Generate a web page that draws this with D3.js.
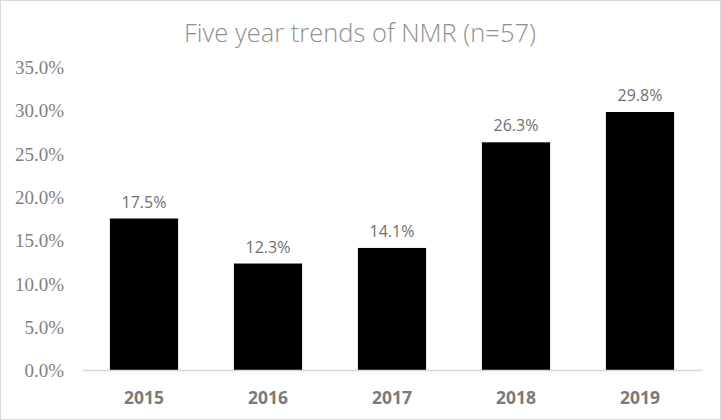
<!DOCTYPE html>
<html><head><meta charset="utf-8">
<script src="https://cdn.jsdelivr.net/npm/d3@7"></script>
<style>body{margin:0;background:#fff}svg{display:block}</style>
</head><body><svg id="c" width="721" height="420"></svg>
<script>
const categories = ["2015","2016","2017","2018","2019"];
const values = [17.5, 12.3, 14.1, 26.3, 29.8];
const yTicks = [0,5,10,15,20,25,30,35];
const title = "Five year trends of NMR (n=57)";

const svg = d3.select("#c");
svg.append("rect").attr("x",0.5).attr("y",0.5).attr("width",720).attr("height",419)
  .attr("fill","#fff").attr("stroke","#d9d9d9");

const x = d3.scaleBand().domain(categories).range([82,702]).paddingInner(0.45).paddingOuter(0.225);
const y = d3.scaleLinear().domain([0,35]).range([370,67]);

svg.append("text").attr("x",360).attr("y",42).attr("text-anchor","middle")
  .style("font-family","'Open Sans', sans-serif").style("font-weight",300).style("font-size","25.5px")
  .attr("fill","#8f8f8f").text(title);

const yAxis = d3.axisLeft(y).tickValues(yTicks).tickSize(0).tickPadding(0)
  .tickFormat(d => d.toFixed(1) + "%");
const gy = svg.append("g").attr("transform","translate(64,0)").call(yAxis);
gy.select(".domain").remove();
gy.attr("font-family", null);
gy.selectAll("text").style("font-family","'Liberation Serif', 'Times New Roman', serif")
  .style("font-size","19px").attr("fill","#7f7f7f").attr("dy","0.35em");

svg.selectAll("rect.bar").data(values).enter().append("rect").attr("class","bar")
  .attr("x",(d,i)=>x(categories[i])).attr("width",x.bandwidth())
  .attr("y",d=>y(d)).attr("height",d=>y(0)-y(d)).attr("fill","#000");

const xAxis = d3.axisBottom(x).tickSize(0).tickPadding(0);
const gx = svg.append("g").attr("transform","translate(0,370)").call(xAxis);
gx.select(".domain").attr("stroke","#d9d9d9").attr("stroke-width",1.5);
gx.selectAll("text").style("font-family","'Open Sans', sans-serif").style("font-weight",700).style("font-size","17.5px")
  .attr("fill","#7a7a7a").attr("dy",0).attr("y",34);

svg.selectAll("text.lbl").data(values).enter().append("text").attr("class","lbl")
  .attr("x",(d,i)=>x(categories[i])+x.bandwidth()/2).attr("y",d=>y(d)-11)
  .attr("text-anchor","middle").style("font-family","'Open Sans', sans-serif").style("font-size","16px")
  .attr("fill","#707070").text(d=>d.toFixed(1)+"%");
</script></body></html>
